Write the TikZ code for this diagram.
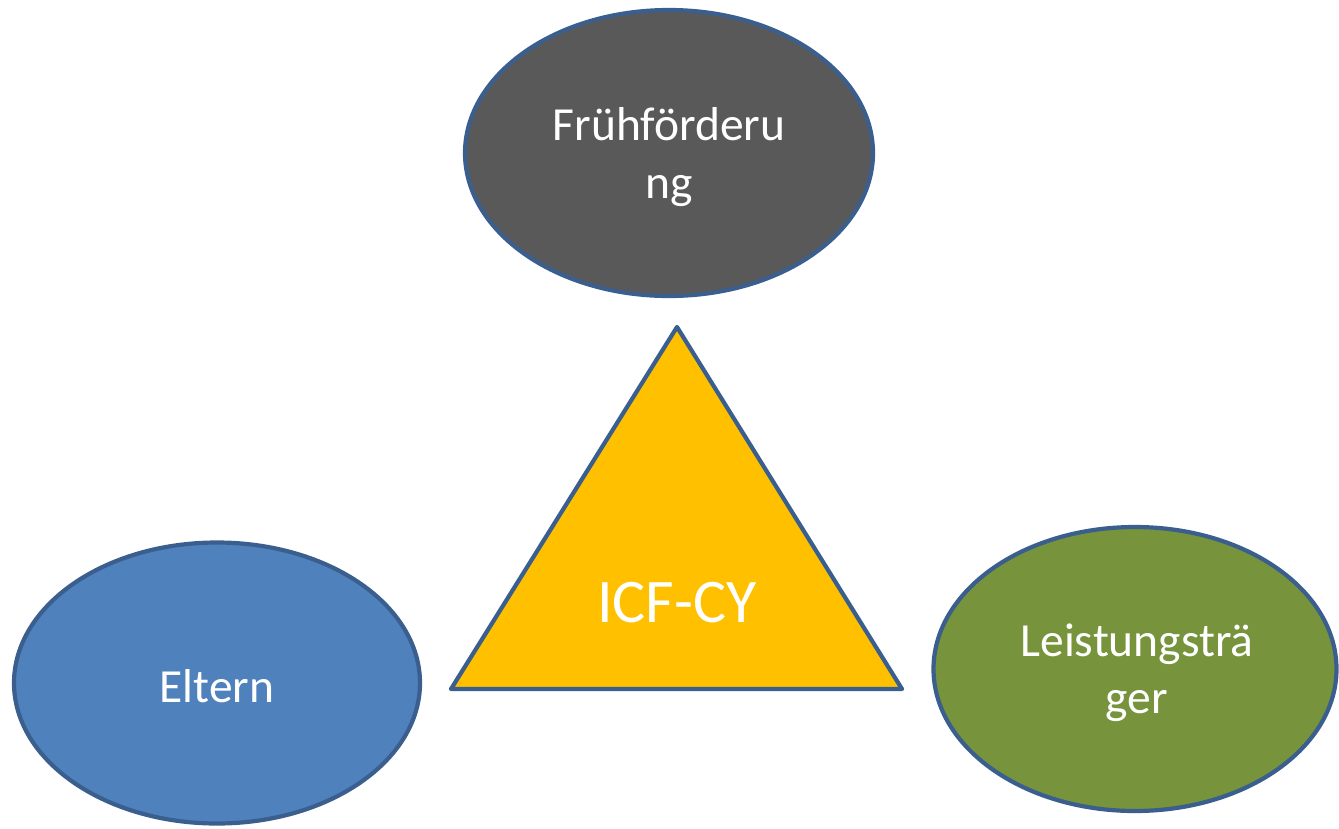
\documentclass[tikz,border=0pt]{standalone}
\usepackage{fontspec}
\setmainfont{Carlito}
\usetikzlibrary{shapes.geometric}
\definecolor{edgeblue}{HTML}{3A5F8F}
\definecolor{greyfill}{HTML}{595959}
\definecolor{bluefill}{HTML}{4F81BD}
\definecolor{greenfill}{HTML}{77933C}
\definecolor{yellowfill}{HTML}{FFC000}
\tikzset{
  blob/.style={ellipse, draw=edgeblue, line width=4.2pt, inner sep=0pt},
  lbl/.style={text=white, anchor=base, inner sep=0pt, font=\fontsize{47.5}{58}\selectfont},
}
\begin{document}
\begin{tikzpicture}[x=1pt,y=-1pt]
\useasboundingbox (0,0) rectangle (1339,828);
\node[blob, fill=greyfill, minimum width=408, minimum height=286] (ff) at (669,153) {};
\node[blob, fill=bluefill, minimum width=406, minimum height=281] (el) at (217,683) {};
\node[blob, fill=greenfill, minimum width=403, minimum height=284] (lt) at (1135,669) {};
\node[lbl] (ff1) at (669,140) {Frühförderu};
\node[lbl] (ff2) at (669,198) {ng};
\node[lbl] (el1) at (217,702) {Eltern};
\node[lbl] (lt1) at (1137,656) {Leistungsträ};
\node[lbl] (lt2) at (1137,713) {ger};
\coordinate (apex) at (677,327);
\coordinate (bl) at (451,689);
\coordinate (br) at (902,689);
\draw[draw=edgeblue, fill=yellowfill, line width=4.2pt, line join=round] (apex) -- (br) -- (bl) -- cycle;
\node[text=white, anchor=base, inner sep=0pt, font=\fontsize{62}{70}\selectfont] (icf) at (677,622) {ICF-CY};
\end{tikzpicture}
\end{document}
